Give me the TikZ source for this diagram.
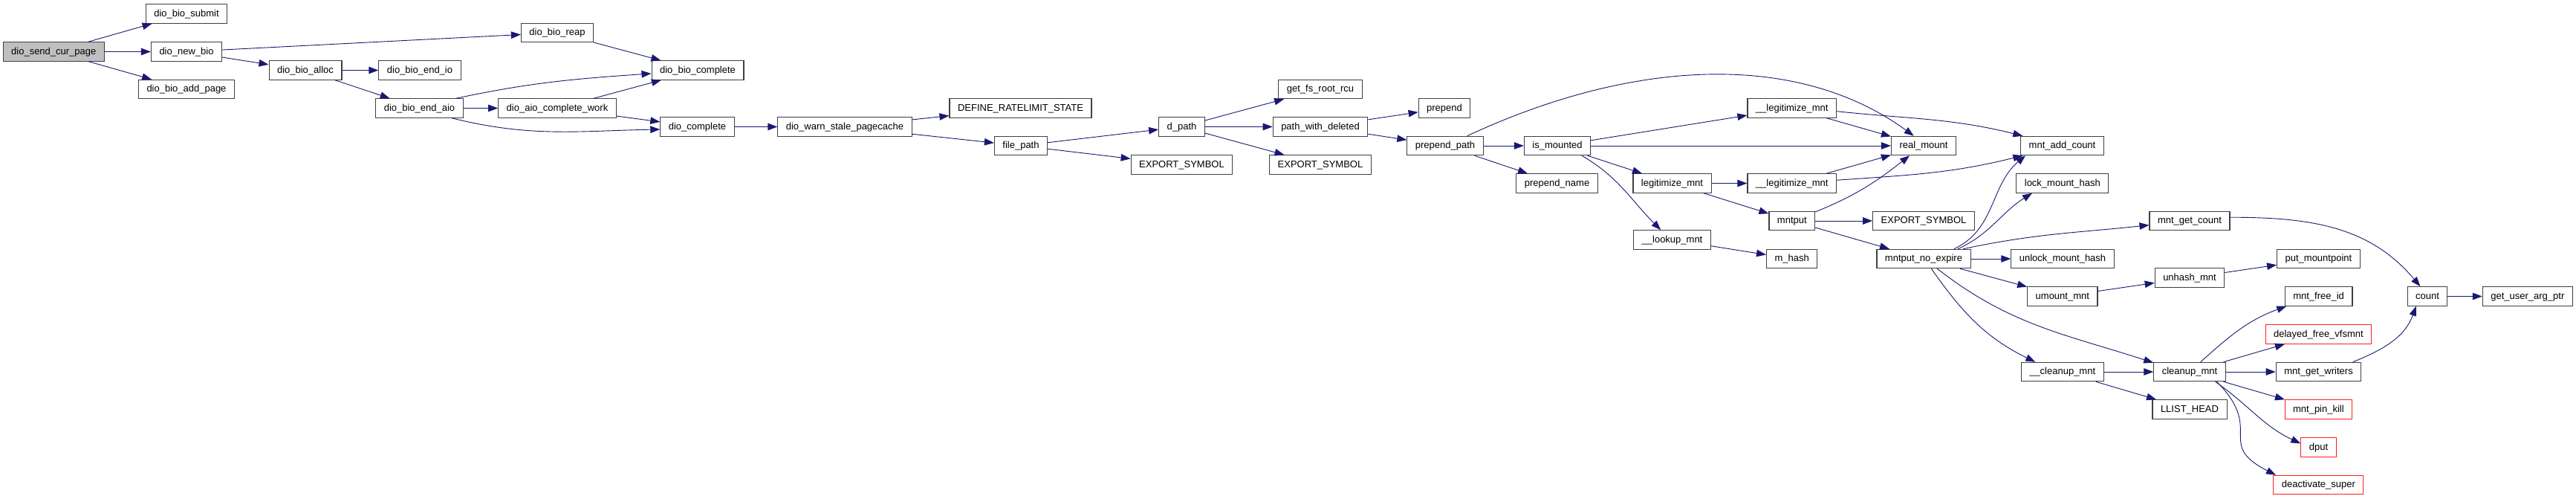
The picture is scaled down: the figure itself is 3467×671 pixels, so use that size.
\documentclass[tikz,border=0pt]{standalone}
\usepackage{fontspec}
\setmainfont{Liberation Sans}
\usetikzlibrary{arrows.meta}
\definecolor{edgeblue}{RGB}{25,25,112}
\definecolor{boxline}{RGB}{64,64,64}
\definecolor{rootgray}{RGB}{191,191,191}
\definecolor{truncred}{RGB}{255,30,30}
\tikzset{
  fn/.style    = {draw=boxline, fill=white, line width=1.1pt, text=black,
                  minimum height=25.4pt, inner xsep=11pt, inner ysep=0pt,
                  text height=9.5pt, text depth=2pt,
                  font=\fontsize{13pt}{15pt}\selectfont},
  root/.style  = {fn, fill=rootgray},
  trunc/.style = {fn, draw=truncred},
  call/.style  = {draw=edgeblue, line width=0.9pt,
                  -{Triangle[length=13pt,width=9.5pt]}},
}

\begin{document}
\begin{tikzpicture}[x=1pt, y=1pt]
\useasboundingbox (0,0) rectangle (3467,671);

% caller and the dio side
\node[root] (sendpage) at (72.3,601.5) {dio\_send\_cur\_page};
\node[fn] (bsubmit)  at (251,652.5)  {dio\_bio\_submit};
\node[fn] (newbio)   at (251,601.5)  {dio\_new\_bio};
\node[fn] (addpage)  at (251,551)    {dio\_bio\_add\_page};
\node[fn] (balloc)   at (411,576.5)  {dio\_bio\_alloc};
\node[fn] (endio)    at (565,576.5)  {dio\_bio\_end\_io};
\node[fn] (endaio)   at (564.5,525.5) {dio\_bio\_end\_aio};
\node[fn] (breap)    at (750,627)    {dio\_bio\_reap};
\node[fn] (aiowork)  at (750,525.5)  {dio\_aio\_complete\_work};
\node[fn] (bcomp)    at (939,576.5)  {dio\_bio\_complete};
\node[fn] (dcomp)    at (938.5,500.5) {dio\_complete};
\node[fn] (warn)     at (1137,500.5) {dio\_warn\_stale\_pagecache};

% path lookup
\node[fn] (ratelimit) at (1373.5,525.5) {DEFINE\_RATELIMIT\_STATE};
\node[fn] (filepath) at (1374,475)   {file\_path};
\node[fn] (dpath)    at (1590.5,500.5) {d\_path};
\node[fn] (exsym1)   at (1590.5,449.5) {EXPORT\_SYMBOL};
\node[fn] (fsroot)   at (1777,551)   {get\_fs\_root\_rcu};
\node[fn] (pwdel)    at (1777,500.5) {path\_with\_deleted};
\node[fn] (exsym2)   at (1777,449.5) {EXPORT\_SYMBOL};
\node[fn] (prepend)  at (1944,525.5) {prepend};
\node[fn] (ppath)    at (1945,475)   {prepend\_path};
\node[fn] (ismnt)    at (2096,475)   {is\_mounted};
\node[fn] (pname)    at (2095.5,424.5) {prepend\_name};

% mount handling
\node[fn] (ulegit1)  at (2411.7,525.5) {\_\_legitimize\_mnt};
\node[fn] (legit)    at (2250.5,424.5) {legitimize\_mnt};
\node[fn] (ulegit2)  at (2411.7,424.5) {\_\_legitimize\_mnt};
\node[fn] (mntput)   at (2411.8,374) {mntput};
\node[fn] (lookup)   at (2250.5,348.5) {\_\_lookup\_mnt};
\node[fn] (mhash)    at (2411.7,323) {m\_hash};
\node[fn] (rmount)   at (2589,475)   {real\_mount};
\node[fn] (exsym3)   at (2589,374)   {EXPORT\_SYMBOL};
\node[fn] (mne)      at (2589,323)   {mntput\_no\_expire};
\node[fn] (addcnt)   at (2775.5,475) {mnt\_add\_count};
\node[fn] (lockhash) at (2775.8,424.5) {lock\_mount\_hash};
\node[fn] (unlock)   at (2776,323)   {unlock\_mount\_hash};
\node[fn] (umount)   at (2775.8,272.5) {umount\_mnt};
\node[fn] (ucleanup) at (2775.7,171) {\_\_cleanup\_mnt};
\node[fn] (getcnt)   at (2947,374)   {mnt\_get\_count};
\node[fn] (unhash)   at (2947,297.5) {unhash\_mnt};
\node[fn] (cleanup)  at (2947,171)   {cleanup\_mnt};
\node[fn] (llist)    at (2947,120.5) {LLIST\_HEAD};
\node[fn] (putmp)    at (3120.4,323) {put\_mountpoint};
\node[fn] (freeid)   at (3120.6,272.5) {mnt\_free\_id};
\node[trunc] (delayed) at (3120.4,221.5) {delayed\_free\_vfsmnt};
\node[fn] (writers)  at (3120.5,171) {mnt\_get\_writers};
\node[trunc] (pinkill) at (3120.4,120.5) {mnt\_pin\_kill};
\node[trunc] (dput)  at (3120.5,69.5) {dput};
\node[trunc] (deact) at (3120.4,19)  {deactivate\_super};
\node[fn] (count)    at (3267,272.5) {count};
\node[fn] (uargptr)  at (3401.8,272.5) {get\_user\_arg\_ptr};

% straight calls
\foreach \a/\b in {sendpage/bsubmit, sendpage/newbio, sendpage/addpage,
    newbio/breap, newbio/balloc, balloc/endio, balloc/endaio,
    breap/bcomp, endaio/aiowork, aiowork/bcomp, aiowork/dcomp,
    dcomp/warn, warn/ratelimit, warn/filepath, filepath/dpath, filepath/exsym1,
    dpath/fsroot, dpath/pwdel, dpath/exsym2, pwdel/prepend, pwdel/ppath,
    ppath/ismnt, ppath/pname, ismnt/ulegit1, ismnt/rmount, ismnt/legit,
    ulegit1/rmount, legit/ulegit2, legit/mntput, ulegit2/rmount,
    lookup/mhash, mntput/exsym3, mntput/mne, mne/unlock, mne/umount,
    umount/unhash, unhash/putmp, ucleanup/cleanup, ucleanup/llist,
    cleanup/delayed, cleanup/writers, cleanup/pinkill, count/uargptr}
  \draw[call] (\a) -- (\b);

% bent calls
\draw[call] (endaio.15) to[out=12,in=184] (bcomp.184);
\draw[call] (endaio.-17) to[out=-14,in=181] (dcomp.184);
\draw[call] (ppath.24) .. controls (2193,590) and (2416,604.5) .. (rmount.135);
\draw[call] (ismnt.-22) to[out=-30,in=135] (lookup.139);
\draw[call] (ulegit1.-4) to[out=-6,in=166] (addcnt.166);
\draw[call] (ulegit2.4) to[out=4,in=194] (addcnt.194);
\draw[call] (mntput.21) to[out=22,in=-142] (rmount.215);
\draw[call] (mne.18) to[out=25,in=-140] (addcnt.195);
\draw[call] (mne.16) to[out=25,in=-148] (lockhash.198);
\draw[call] (mne.14) to[out=12,in=186] (getcnt.186);
\draw[call] (mne.-36) to[out=-38,in=162] (cleanup.166);
\draw[call] (mne.-52) to[out=-55,in=154] (ucleanup.160);
\draw[call] (cleanup.42) to[out=42,in=-160] (freeid.197);
\draw[call] (cleanup.-21) to[out=-35,in=155] (dput.168);
\draw[call] (cleanup.-20) to[out=-45,in=153,looseness=1.6] (deact.167);
\draw[call] (writers.16) to[out=22,in=-110] (count.221);
\draw[call] (getcnt.5) to[out=0,in=130] (count.126);
\end{tikzpicture}
\end{document}
